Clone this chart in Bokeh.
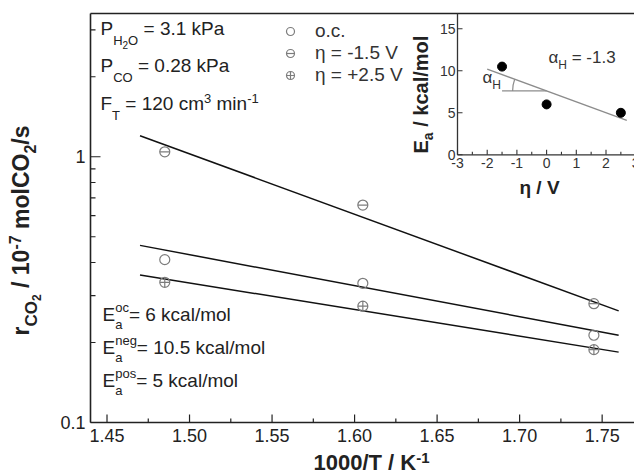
import math

from bokeh.core.properties import value
from bokeh.embed import file_html
from bokeh.models import Label, Legend, LegendItem, LinearScale, Range1d
from bokeh.plotting import figure
from bokeh.resources import INLINE

# ---- Arrhenius data: CO2 formation rate vs 1000/T ----
inv_T = [1.485, 1.605, 1.745]
rate_oc = [0.410, 0.334, 0.213]
rate_neg = [1.044, 0.658, 0.280]
rate_pos = [0.337, 0.274, 0.188]

# fitted Arrhenius lines (end points)
fit_x = [1.47, 1.76]
fit_neg = [1.20, 0.263]
fit_oc = [0.464, 0.213]
fit_pos = [0.359, 0.184]

x_ticks = [1.45, 1.50, 1.55, 1.60, 1.65, 1.70, 1.75]
x_tick_labels = ["1.45", "1.50", "1.55", "1.60", "1.65", "1.70", "1.75"]
x_minor = [1.475, 1.525, 1.575, 1.625, 1.675, 1.725]
y_ticks = [0.1, 1]
y_tick_labels = ["0.1", "1"]
y_minor = [0.2, 0.3, 0.4, 0.5, 0.6, 0.7, 0.8, 0.9, 2, 3]

# ---- inset: activation energy vs overpotential ----
eta = [-1.5, 0.0, 2.5]
ea = [10.5, 6.0, 5.0]
alpha_h = -1.3
eta_fit = [-2.0, 2.7]
ea_fit = [10.2, 10.2 + alpha_h * (2.7 - (-2.0))]
eta_ticks = [-3, -2, -1, 0, 1, 2, 3]
eta_minor = [-2.5, -1.5, -0.5, 0.5, 1.5, 2.5]
ea_ticks = [0, 5, 10, 15]

FONT = "Liberation Sans"
INK = "#222222"
W, H = 634, 475

# axes box of the main plot: data limits and their pixel positions
X0, X1 = 1.44, 1.7696
Y0, Y1 = 0.1, 3.46
PX_L, PX_R, PX_T, PX_B = 90, 634, 13, 422
# inset axes: data origin pixel and pixels per unit
IN_X0_PX, IN_PX_PER_ETA = 457.0, 29.7      # eta = -3 at this pixel
IN_Y0_PX, IN_PX_PER_EA = 154.3, 8.4        # Ea = 0 at this pixel

# the frame fills the whole canvas; axes are drawn as glyphs
dx = (X1 - X0) / (PX_R - PX_L)
ly = (math.log10(Y1) - math.log10(Y0)) / (PX_B - PX_T)
x_range = Range1d(X0 - PX_L * dx, X1 + (W - PX_R) * dx)
y_range = Range1d(10 ** (math.log10(Y0) - (H - PX_B) * ly),
                  10 ** (math.log10(Y1) + PX_T * ly))

p = figure(width=W, height=H, output_backend="svg", toolbar_location=None,
           x_axis_location=None, y_axis_location=None, y_axis_type="log",
           x_range=x_range, y_range=y_range,
           min_border_left=0, min_border_right=0, min_border_top=0,
           min_border_bottom=0)
p.outline_line_color = None
p.grid.visible = False
p.background_fill_color = "white"
p.border_fill_color = "white"

p.extra_x_ranges = {"ix": Range1d(-3 - IN_X0_PX / IN_PX_PER_ETA,
                                  -3 + (W - IN_X0_PX) / IN_PX_PER_ETA)}
p.extra_y_ranges = {"iy": Range1d(-(H - IN_Y0_PX) / IN_PX_PER_EA,
                                  IN_Y0_PX / IN_PX_PER_EA)}
p.extra_x_scales = {"ix": LinearScale()}
p.extra_y_scales = {"iy": LinearScale()}

# ---- main axes ----
p.segment(x0=[X0, X0, X0], y0=[Y0, Y0, Y1], x1=[X0, X1, X1], y1=[Y1, Y0, Y1],
          line_color=INK, line_width=1.6)
p.ray(x=x_ticks, y=[Y0] * len(x_ticks), length=8, length_units="screen",
      angle=math.pi / 2, line_color=INK, line_width=1.2)
p.ray(x=x_minor, y=[Y0] * len(x_minor), length=4, length_units="screen",
      angle=math.pi / 2, line_color=INK, line_width=1.2)
p.ray(x=[X0] * len(y_ticks), y=y_ticks, length=10, length_units="screen",
      angle=0, line_color=INK, line_width=1.2)
p.ray(x=[X0] * len(y_minor), y=y_minor, length=5, length_units="screen",
      angle=0, line_color=INK, line_width=1.2)
p.text(x=x_ticks, y=[Y0] * len(x_ticks), text=x_tick_labels, y_offset=6,
       text_align="center", text_baseline="top", text_font=value(FONT),
       text_font_size="18px", text_color=INK)
p.text(x=[X0] * len(y_ticks), y=y_ticks, text=y_tick_labels, x_offset=-5,
       text_align="right", text_baseline="middle", text_font=value(FONT),
       text_font_size="18px", text_color=INK)

# ---- fitted lines and data ----
for fy in (fit_neg, fit_oc, fit_pos):
    p.line(fit_x, fy, line_color="#111111", line_width=1.5)

MK = dict(size=10, line_color="#7c7c7c", line_width=1.2, fill_alpha=0)
r_oc = p.scatter(inv_T, rate_oc, marker="circle", **MK)
r_neg_c = p.scatter(inv_T, rate_neg, marker="circle", **MK)
r_neg_d = p.scatter(inv_T, rate_neg, marker="dash", **MK)
r_pos = p.scatter(inv_T, rate_pos, marker="circle_cross", **MK)

legend = Legend(items=[LegendItem(label="o.c.", renderers=[r_oc]),
                       LegendItem(label="η = -1.5 V", renderers=[r_neg_c, r_neg_d]),
                       LegendItem(label="η = +2.5 V", renderers=[r_pos])],
                location=(280, H - 86), orientation="vertical",
                padding=0, spacing=0, margin=0, glyph_width=20, glyph_height=22,
                label_height=22, label_standoff=15,
                label_text_font=FONT, label_text_font_size="19px",
                label_text_color="#333333",
                background_fill_alpha=0, border_line_alpha=0)
p.add_layout(legend)

# ---- rich text helper (sub/superscripts built from several labels) ----
REG = {' ': 278, '=': 584, '.': 278, '-': 333, '+': 584, '/': 278, 'a': 556,
       'c': 500, 'e': 556, 'g': 556, 'i': 222, 'k': 500, 'l': 222, 'm': 833,
       'n': 556, 'o': 556, 'p': 556, 's': 500, 'C': 722, 'E': 667, 'F': 611,
       'H': 722, 'K': 667, 'O': 778, 'P': 667, 'T': 611, 'V': 667, 'α': 578,
       'η': 556}
BOLD = {' ': 278, '/': 278, '-': 333, 'a': 556, 'c': 556, 'k': 556, 'l': 278,
        'm': 889, 'o': 611, 's': 556, 'r': 389, 'C': 722, 'E': 667, 'K': 722,
        'O': 778, 'T': 611, 'V': 667}
# labels sit this fraction of the font size below the requested baseline
BASELINE_DROP = 0.4


def text_width(s, size, bold):
    table = BOLD if bold else REG
    return sum(table.get(ch, 556) for ch in s) * size / 1000.0


def put_label(text, cx, cy, size, bold=False, color=INK, rotated=False,
              align="left"):
    """Place a label whose baseline starts at canvas pixel (cx, cy)."""
    if rotated:
        cx -= BASELINE_DROP * size
    else:
        cy -= BASELINE_DROP * size
    p.add_layout(Label(x=cx, y=H - cy, x_units="screen", y_units="screen",
                       text=text, angle=math.pi / 2 if rotated else 0,
                       text_font=FONT, text_font_size=f"{size}px",
                       text_font_style="bold" if bold else "normal",
                       text_color=color, text_baseline="alphabetic",
                       text_align=align))


def rich_text(parts, x, y, bold=False, color=INK, rotated=False):
    """parts: (text, font px, baseline rise px[, advances]); x, y: canvas px."""
    pos = 0.0
    for part in parts:
        s, size, rise = part[:3]
        advances = part[3] if len(part) > 3 else True
        lead = len(s) - len(s.lstrip(" "))
        off = pos + text_width(" " * lead, size, bold)
        if rotated:
            cx, cy = x - rise, y - off
        else:
            cx, cy = x + off, y - rise
        put_label(s.lstrip(" "), cx, cy, size, bold, color, rotated)
        if advances:
            pos += text_width(s, size, bold)


# axis titles
rich_text([("r", 23, 0), ("CO", 17, -8), ("2", 12, -11), (" / 10", 23, 0),
           ("-7", 16, 9), (" molCO", 23, 0), ("2", 16, -6), ("/s", 23, 0)],
          30, 335, bold=True, rotated=True)
rich_text([("1000/T / K", 22, 0), ("-1", 15, 8)], 313, 471, bold=True)

# experimental conditions
rich_text([("P", 19, 0), ("H", 13, -9), ("2", 10, -12), ("O", 13, -9),
           (" = 3.1 kPa", 19, 0)], 100, 36)
rich_text([("P", 19, 0), ("CO", 13, -9), (" = 0.28 kPa", 19, 0)], 100, 73)
rich_text([("F", 19, 0), ("T", 13, -9), (" = 120 cm", 19, 0), ("3", 13, 8),
           (" min", 19, 0), ("-1", 13, 8)], 100, 111)

# activation energies
for sup, rest, base in (("oc", "= 6 kcal/mol", 322),
                        ("neg", "= 10.5 kcal/mol", 355),
                        ("pos", "= 5 kcal/mol", 388)):
    rich_text([("E", 19, 0), ("a", 13, -7, False), (sup, 13, 10), (rest, 19, 0)],
              102, base)

# ---- inset ----
IG = dict(x_range_name="ix", y_range_name="iy")
inset_ink = "#333333"
top_e = (IN_Y0_PX - PX_T) / IN_PX_PER_EA
right_eta = p.extra_x_ranges["ix"].end

p.segment(x0=[-3, -3], y0=[0, 0], x1=[-3, right_eta], y1=[top_e, 0],
          line_color=inset_ink, line_width=1.3, **IG)
p.ray(x=eta_ticks, y=[0] * len(eta_ticks), length=5, length_units="screen",
      angle=math.pi / 2, line_color=inset_ink, line_width=1.1, **IG)
p.ray(x=eta_minor, y=[0] * len(eta_minor), length=3, length_units="screen",
      angle=math.pi / 2, line_color=inset_ink, line_width=1.1, **IG)
p.ray(x=[-3] * len(ea_ticks), y=ea_ticks, length=5, length_units="screen",
      angle=0, line_color=inset_ink, line_width=1.1, **IG)

p.text(x=eta_ticks, y=[0] * len(eta_ticks), text=[str(t) for t in eta_ticks],
       text_align="center", text_baseline="top", y_offset=3,
       text_font=value(FONT), text_font_size="14px", text_color=inset_ink, **IG)
p.text(x=[-3] * len(ea_ticks), y=ea_ticks, text=[str(t) for t in ea_ticks],
       text_align="right", text_baseline="middle", x_offset=-2,
       text_font=value(FONT), text_font_size="14px", text_color=inset_ink, **IG)

p.line(eta_fit, ea_fit, line_color="#8c8c8c", line_width=1.3, **IG)
ea_at_zero = ea_fit[0] + alpha_h * (0 - eta_fit[0])
p.line([-1.5, 0], [ea_at_zero, ea_at_zero], line_color="#8c8c8c", line_width=1.3, **IG)
# arc between the fit line and the horizontal, drawn in screen space
slope_angle = math.atan(-alpha_h * IN_PX_PER_EA / IN_PX_PER_ETA)
p.arc(x=[0], y=[ea_at_zero], radius=34, radius_units="screen",
      start_angle=math.pi - slope_angle, end_angle=math.pi,
      line_color="#8c8c8c", line_width=1.2, **IG)
p.scatter(eta, ea, size=9, marker="circle", color="black", **IG)

rich_text([("E", 20, 0), ("a", 14, -5), (" / kcal/mol", 20, 0)], 428, 153,
          bold=True, rotated=True)
put_label("η / V", 539, 195, 19, bold=True, align="center")
rich_text([("α", 17, 0), ("H", 12, -5), (f" = {alpha_h}", 17, 0)], 548, 64,
          color=inset_ink)
rich_text([("α", 17, 0), ("H", 12, -5)], 482, 84, color=inset_ink)

open("out.html", "w").write(file_html(p, INLINE))
